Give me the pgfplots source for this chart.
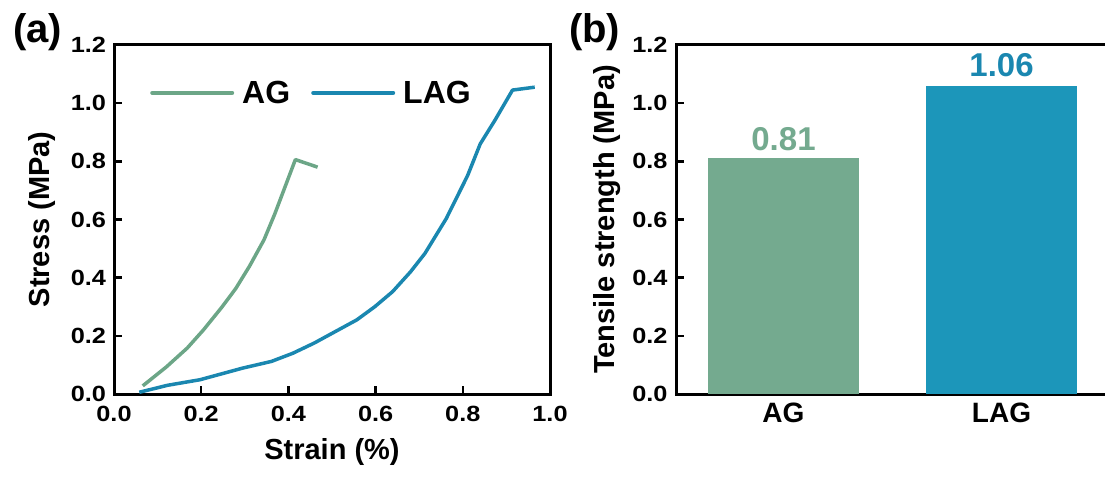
\documentclass[border=0pt]{standalone}
\usepackage{fontspec}
\setmainfont{Liberation Sans}
\usepackage{graphicx}
\usepackage{pgfplots}
\pgfplotsset{compat=1.18}
\definecolor{agline}{HTML}{6CA687}
\definecolor{lagline}{HTML}{1A87B0}
\definecolor{agbar}{HTML}{74AA8F}
\definecolor{lagbar}{HTML}{1C96BA}
\newcommand{\fs}[1]{\bfseries\fontsize{#1}{#1}\selectfont}
\begin{document}
\begin{tikzpicture}
\pgfplotsset{
  myax/.style={
    scale only axis,
    anchor=south west,
    ymin=0, ymax=1.2,
    ytick={0,0.2,0.4,0.6,0.8,1.0,1.2},
    axis line style={line width=3pt, line cap=rect},
    every tick/.style={black, line width=2.5pt},
    major tick length=8pt,
    ytick pos=left,
    tick align=inside,
    tick label style={font=\fs{22}},
    /pgf/number format/.cd, fixed, fixed zerofill, precision=1, assume math mode=true, /pgfplots/.cd,
    yticklabel={\scalebox{1.15}[1]{\pgfmathprintnumber{\tick}}},
    label style={font=\fs{29}},
  }
}
% ---------------- panel (a)
\begin{axis}[myax, at={(114pt,83pt)}, width=436pt, height=349pt,
  xmin=0, xmax=1, xtick={0,0.2,0.4,0.6,0.8,1.0}, xtick pos=bottom,
  xticklabel={\scalebox{1.15}[1]{\pgfmathprintnumber{\tick}}},
  xticklabel style={yshift=-9pt},
  yticklabel style={xshift=-4.5pt},
  xlabel={Strain (\%)}, ylabel={Stress (MPa)},
  xlabel style={at={(axis description cs:0.5,-0.166)}, anchor=center},
  ylabel style={at={(axis description cs:-0.165,0.5)}, anchor=center},
  legend style={draw=none, fill=none, at={(axis description cs:0.0826,0.863)}, anchor=west,
    font=\fs{32}, inner sep=0pt, nodes={inner sep=0pt},
    /tikz/every odd column/.style={column sep=8pt},
    /tikz/every even column/.style={column sep=21pt}},
  legend columns=2,
  legend image code/.code={\draw[#1, line width=4pt, line cap=round] (0pt,0pt) -- (80pt,0pt);},
]
\addplot[agline, line width=3.5pt, line join=round] coordinates {
(0.066,0.028) (0.12,0.093) (0.168,0.158) (0.205,0.220) (0.246,0.296) (0.279,0.362)
(0.311,0.440) (0.344,0.530) (0.369,0.620) (0.393,0.715) (0.416,0.806) (0.467,0.780)};
\addlegendentry{AG}
\addplot[lagline, line width=3.5pt, line join=round] coordinates {
(0.058,0.006) (0.123,0.030) (0.197,0.049) (0.295,0.089) (0.361,0.112) (0.41,0.140)
(0.459,0.175) (0.508,0.215) (0.557,0.255) (0.598,0.300) (0.639,0.352) (0.680,0.420)
(0.713,0.483) (0.762,0.603) (0.811,0.751) (0.840,0.860) (0.874,0.942) (0.914,1.045) (0.965,1.055)};
\addlegendentry{LAG}
\end{axis}
% ---------------- panel (b)
\begin{axis}[myax, at={(676pt,83pt)}, width=433pt, height=349pt,
  xmin=-0.493, xmax=1.493, xtick={0,1}, xticklabels={AG,LAG},
  xtick style={draw=none},
  xticklabel style={font=\fs{28}, yshift=-5pt},
  yticklabel style={xshift=-5pt},
  ylabel={Tensile strength (MPa)},
  ylabel style={at={(axis description cs:-0.159,0.5)}, anchor=center},
]
\addplot[ybar, bar width=0.695, bar shift=0pt, fill=agbar, draw=none,
  nodes near coords, point meta=explicit symbolic,
  every node near coord/.append style={font=\fs{33}, text=agbar, yshift=4pt}]
  coordinates {(0,0.81) [0.81]};
\addplot[ybar, bar width=0.695, bar shift=0pt, fill=lagbar, draw=none,
  nodes near coords, point meta=explicit symbolic,
  every node near coord/.append style={font=\fs{33}, text=lagline, yshift=5pt}]
  coordinates {(1,1.06) [1.06]};
\end{axis}
\node[anchor=base west, inner sep=0pt, font=\fs{40}] at (13pt,434pt) {(a)};
\node[anchor=base west, inner sep=0pt, font=\fs{40}] at (569pt,434pt) {(b)};
\pgfresetboundingbox
\path[use as bounding box] (0pt,0pt) rectangle (1105pt,477pt);
\end{tikzpicture}
\end{document}
